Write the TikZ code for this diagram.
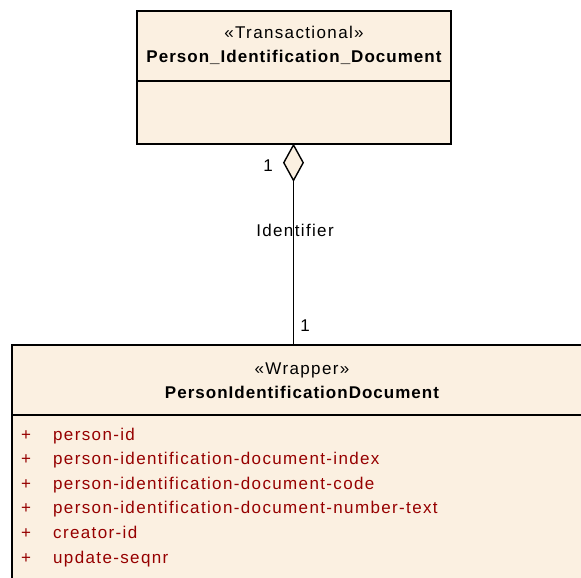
\documentclass[tikz,border=0pt]{standalone}
\usepackage{fontspec}
\setmainfont{Liberation Sans}[LetterSpace=8]
\newfontfamily\titlefont{Liberation Sans}[LetterSpace=6]
\usetikzlibrary{shapes.geometric}
\definecolor{classfill}{RGB}{251,240,225}
\definecolor{attrred}{RGB}{150,0,0}
\tikzset{
  classbox/.style={draw=black, line width=1.5pt, fill=classfill},
  divider/.style={draw=black, line width=1.5pt},
  txt/.style={inner sep=0pt, anchor=base, font=\fontsize{17}{19}\selectfont, text=black},
  bold/.style={inner sep=0pt, anchor=base, font=\titlefont\fontsize{17}{19}\selectfont\bfseries, text=black},
  attr/.style={inner sep=0pt, anchor=base west, font=\fontsize{17}{19}\selectfont, text=attrred},
  agg/.style={diamond, draw=black, line width=1.4pt, fill=classfill, minimum width=20pt, minimum height=36pt, inner sep=0pt, aspect=0.55},
}
\begin{document}
\begin{tikzpicture}[x=1pt,y=-1pt]
\useasboundingbox (0,0) rectangle (581,578);
\begin{scope}
\clip (0,0) rectangle (581,578);
% top class
\draw[classbox] (137,11) rectangle (451,144);
\draw[divider] (137,81) -- (451,81);
\node[txt] (t1) at (294,39) {«Transactional»};
\node[bold] (t2) at (294,63) {Person\_Identification\_Document};
% bottom class
\draw[classbox] (12,345) rectangle (600,600);
\draw[divider] (12,415) -- (600,415);
\node[txt] (w1) at (302,374) {«Wrapper»};
\node[bold] (w2) at (302,398) {PersonIdentificationDocument};
\foreach \i/\s in {0/person-id,1/person-identification-document-index,2/person-identification-document-code,3/person-identification-document-number-text,4/creator-id,5/update-seqnr}{
  \node[attr] (p\i) at (21,440+24.6*\i) {+};
  \node[attr] (a\i) at (53,440+24.6*\i) {\s};
}
% connector
\coordinate (top) at (293.5,144);
\coordinate (bot) at (293.5,345);
\node[agg, anchor=north] (dia) at (top) {};
\draw[line width=1.4pt] (dia.south) -- (bot);
\node[txt] (m1) at (268,171) {1};
\node[txt] (m2) at (305,331) {1};
\node[txt] (lbl) at (295,236) {Identifier};
\end{scope}
\end{tikzpicture}
\end{document}
